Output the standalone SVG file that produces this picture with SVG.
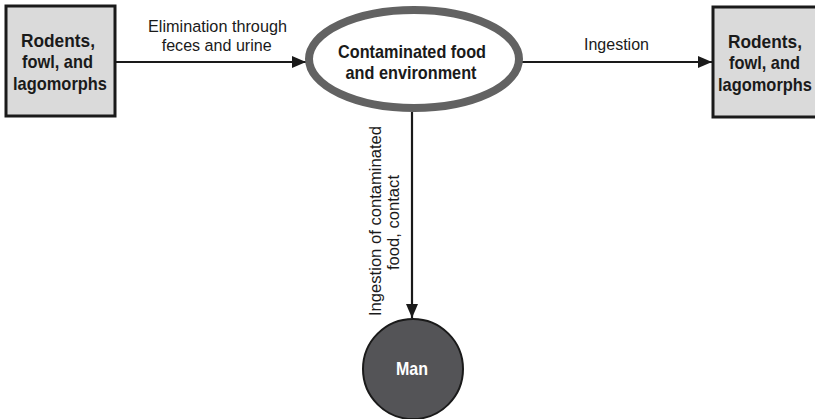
<svg xmlns="http://www.w3.org/2000/svg" width="815" height="419" viewBox="0 0 815 419">
<style>
.box{fill:#dadada;stroke:#1a1a1a;stroke-width:3}
.nt{font-family:"Liberation Sans",Arial,sans-serif;font-weight:bold;font-size:19px;fill:#1a1a1a;text-anchor:middle}
.lbl{font-family:"Liberation Sans",Arial,sans-serif;font-size:16.3px;fill:#1a1a1a;text-anchor:middle}
.edge{stroke:#1a1a1a;stroke-width:2.2;fill:none;marker-end:url(#ah)}
</style>
<defs>
<marker id="ah" viewBox="0 0 14 12" refX="14" refY="6" markerWidth="14" markerHeight="12" markerUnits="userSpaceOnUse" orient="auto">
<path d="M0,0 L14,6 L0,12 Z" fill="#1a1a1a"/>
</marker>
</defs>
<rect width="815" height="419" fill="#ffffff"/>
<g id="connectors">
<line class="edge" x1="115" y1="62" x2="306" y2="62"/>
<line class="edge" x1="522" y1="62" x2="712" y2="62"/>
<line class="edge" x1="412" y1="112" x2="412" y2="318"/>
<text class="lbl" x="217.5" y="32" textLength="139" lengthAdjust="spacingAndGlyphs">Elimination through</text>
<text class="lbl" x="216.7" y="50.5" textLength="110" lengthAdjust="spacingAndGlyphs">feces and urine</text>
<text class="lbl" x="616.5" y="50" textLength="65" lengthAdjust="spacingAndGlyphs">Ingestion</text>
<text class="lbl" transform="translate(381,221) rotate(-90)" textLength="190" lengthAdjust="spacingAndGlyphs">Ingestion of contaminated</text>
<text class="lbl" transform="translate(399,222.5) rotate(-90)" textLength="95" lengthAdjust="spacingAndGlyphs">food, contact</text>
</g>
<g id="source">
<rect class="box" x="6" y="6" width="109" height="110"/>
<text class="nt" x="58" y="47" textLength="74" lengthAdjust="spacingAndGlyphs">Rodents,</text>
<text class="nt" x="57.5" y="68.3" textLength="71" lengthAdjust="spacingAndGlyphs">fowl, and</text>
<text class="nt" x="60" y="89.5" textLength="94" lengthAdjust="spacingAndGlyphs">lagomorphs</text>
</g>
<g id="food">
<ellipse cx="414" cy="59" rx="105" ry="49" fill="#ffffff" stroke="#626262" stroke-width="8"/>
<text class="nt" x="412" y="58" textLength="148" lengthAdjust="spacingAndGlyphs">Contaminated food</text>
<text class="nt" x="411" y="79" textLength="131" lengthAdjust="spacingAndGlyphs">and environment</text>
</g>
<g id="target">
<rect class="box" x="713" y="7" width="109" height="110"/>
<text class="nt" x="765" y="48" textLength="74" lengthAdjust="spacingAndGlyphs">Rodents,</text>
<text class="nt" x="764.5" y="69.3" textLength="71" lengthAdjust="spacingAndGlyphs">fowl, and</text>
<text class="nt" x="765" y="90.5" textLength="94" lengthAdjust="spacingAndGlyphs">lagomorphs</text>
</g>
<g id="man">
<circle cx="413" cy="369" r="50" fill="#545457" stroke="#1a1a1a" stroke-width="2"/>
<text class="nt" x="412" y="375" textLength="32" lengthAdjust="spacingAndGlyphs" style="fill:#ffffff">Man</text>
</g>
</svg>
